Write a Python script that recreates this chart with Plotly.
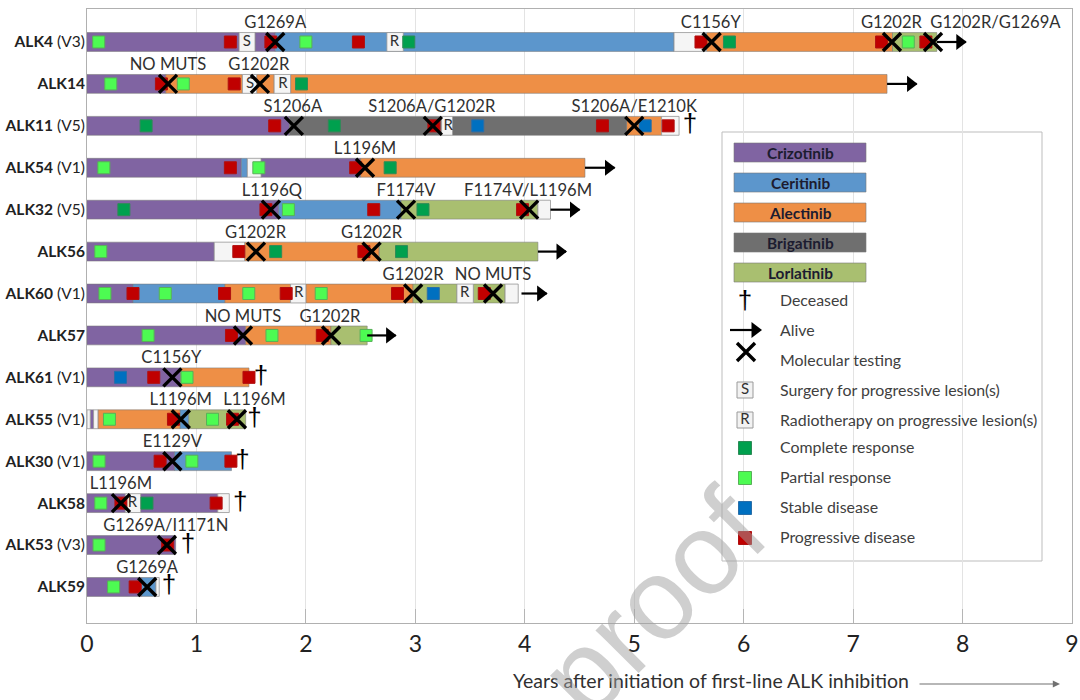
import plotly.graph_objects as go

patients = ["ALK4", "ALK14", "ALK11", "ALK54", "ALK32", "ALK56", "ALK60",
            "ALK57", "ALK61", "ALK55", "ALK30", "ALK58", "ALK53", "ALK59"]
variants = ["V3", "", "V5", "V1", "V5", "", "V1", "", "V1", "V1", "V1", "", "V3", ""]

# Treatment segments: (patient, start year, end year)
crizotinib = [("ALK4", 0, 1.39), ("ALK4", 1.535, 1.72), ("ALK14", 0, 0.72), ("ALK11", 0, 1.85),
              ("ALK54", 0, 1.41), ("ALK54", 1.59, 2.5), ("ALK32", 0, 1.75), ("ALK56", 0, 1.163),
              ("ALK60", 0, 0.42), ("ALK57", 0, 1.45), ("ALK61", 0, 0.857), ("ALK55", 0.03, 0.06),
              ("ALK30", 0, 0.8), ("ALK58", 0, 0.35), ("ALK58", 0.49, 1.195), ("ALK53", 0, 0.81),
              ("ALK59", 0, 0.5)]
ceritinib = [("ALK4", 1.72, 5.364), ("ALK54", 1.41, 1.465), ("ALK32", 1.75, 2.87), ("ALK60", 0.42, 1.26),
             ("ALK55", 0.85, 0.93), ("ALK30", 0.8, 1.32), ("ALK59", 0.5, 0.63)]
alectinib = [("ALK4", 5.66, 7.36), ("ALK14", 0.72, 1.42), ("ALK14", 1.55, 1.71), ("ALK14", 1.86, 7.31),
             ("ALK11", 4.93, 5.25), ("ALK54", 2.5, 4.55), ("ALK56", 1.44, 2.67), ("ALK60", 1.26, 1.86),
             ("ALK60", 2.0, 2.98), ("ALK57", 1.45, 2.23), ("ALK61", 0.857, 1.48), ("ALK55", 0.10, 0.85)]
brigatinib = [("ALK11", 1.85, 3.24), ("ALK11", 3.34, 4.93)]
lorlatinib = [("ALK4", 7.36, 7.765), ("ALK32", 2.87, 4.12), ("ALK56", 2.67, 4.12), ("ALK60", 2.98, 3.38),
              ("ALK60", 3.53, 3.82), ("ALK57", 2.23, 2.56), ("ALK55", 0.93, 1.45)]
off_treatment = [("ALK4", 1.39, 1.535), ("ALK4", 2.74, 2.89), ("ALK4", 5.364, 5.66), ("ALK14", 1.42, 1.55),
                 ("ALK14", 1.71, 1.86), ("ALK11", 3.24, 3.34), ("ALK11", 5.25, 5.41), ("ALK54", 1.465, 1.59),
                 ("ALK32", 4.12, 4.235), ("ALK56", 1.163, 1.44), ("ALK60", 1.86, 2.0), ("ALK60", 3.38, 3.53),
                 ("ALK60", 3.82, 3.94), ("ALK55", 0, 0.03), ("ALK55", 0.06, 0.10), ("ALK58", 0.35, 0.49),
                 ("ALK58", 1.195, 1.30), ("ALK59", 0.63, 0.66)]

# Point events: (patient, year)
complete_response = [("ALK4", 2.94), ("ALK4", 5.87), ("ALK14", 1.96), ("ALK11", 0.54), ("ALK11", 2.26),
                     ("ALK54", 2.77), ("ALK32", 0.337), ("ALK32", 3.07), ("ALK56", 1.724), ("ALK56", 2.874),
                     ("ALK58", 0.548)]
partial_response = [("ALK4", 0.107), ("ALK4", 2.0), ("ALK4", 7.504), ("ALK14", 0.217), ("ALK14", 0.88),
                    ("ALK54", 0.154), ("ALK54", 1.57), ("ALK32", 1.84), ("ALK56", 0.126), ("ALK60", 0.164),
                    ("ALK60", 0.715), ("ALK60", 1.478), ("ALK60", 2.14), ("ALK57", 0.558), ("ALK57", 1.69),
                    ("ALK57", 2.55), ("ALK61", 0.914), ("ALK55", 0.205), ("ALK55", 1.147), ("ALK30", 0.11),
                    ("ALK30", 0.958), ("ALK58", 0.126), ("ALK53", 0.11), ("ALK59", 0.243)]
stable_disease = [("ALK11", 3.57), ("ALK11", 5.10), ("ALK60", 3.164), ("ALK61", 0.306)]
progressive_disease = [("ALK4", 1.31), ("ALK4", 1.68), ("ALK4", 2.48), ("ALK4", 5.61), ("ALK4", 7.26),
                       ("ALK4", 7.665), ("ALK14", 0.68), ("ALK14", 1.345), ("ALK11", 1.715), ("ALK11", 3.17),
                       ("ALK11", 4.71), ("ALK11", 5.31), ("ALK54", 1.31), ("ALK54", 2.455), ("ALK32", 1.635),
                       ("ALK32", 2.62), ("ALK32", 3.98), ("ALK56", 1.387), ("ALK56", 2.53), ("ALK60", 0.42),
                       ("ALK60", 1.257), ("ALK60", 1.82), ("ALK60", 2.837), ("ALK60", 3.63), ("ALK57", 1.32),
                       ("ALK57", 2.15), ("ALK61", 0.61), ("ALK61", 1.48), ("ALK55", 0.79), ("ALK55", 1.33),
                       ("ALK30", 0.668), ("ALK30", 1.315), ("ALK58", 0.31), ("ALK58", 1.18), ("ALK53", 0.737),
                       ("ALK59", 0.44)]
molecular_testing = [("ALK4", 1.72), ("ALK4", 5.707), ("ALK4", 7.355), ("ALK4", 7.73), ("ALK14", 0.74),
                     ("ALK14", 1.58), ("ALK11", 1.89), ("ALK11", 3.16), ("ALK11", 5.0), ("ALK54", 2.54),
                     ("ALK32", 1.68), ("ALK32", 2.915), ("ALK32", 4.04), ("ALK56", 1.544), ("ALK56", 2.6),
                     ("ALK60", 2.98), ("ALK60", 3.71), ("ALK57", 1.425), ("ALK57", 2.23), ("ALK61", 0.78),
                     ("ALK55", 0.857), ("ALK55", 1.37), ("ALK30", 0.78), ("ALK58", 0.31), ("ALK53", 0.73),
                     ("ALK59", 0.55)]
surgery = [("ALK4", 1.46), ("ALK14", 1.49)]
radiotherapy = [("ALK4", 2.81), ("ALK14", 1.79), ("ALK11", 3.3), ("ALK60", 1.935), ("ALK60", 3.45), ("ALK58", 0.415)]
deceased = [("ALK11", 5.51), ("ALK61", 1.59), ("ALK55", 1.53), ("ALK30", 1.42), ("ALK58", 1.40),
            ("ALK53", 0.923), ("ALK59", 0.75)]
# Alive arrows: (patient, arrow start year, arrow tip year)
alive = [("ALK4", 7.765, 8.03), ("ALK14", 7.31, 7.58), ("ALK54", 4.55, 4.82), ("ALK32", 4.235, 4.50),
         ("ALK56", 4.12, 4.377), ("ALK60", 3.97, 4.2), ("ALK57", 2.56, 2.82)]
# Mutation labels: (patient, year, text)
mutations = [("ALK4", 1.72, "G1269A"), ("ALK4", 5.70, "C1156Y"), ("ALK4", 7.35, "G1202R"),
             ("ALK4", 8.30, "G1202R/G1269A"), ("ALK14", 0.74, "NO MUTS"), ("ALK14", 1.57, "G1202R"),
             ("ALK11", 1.88, "S1206A"), ("ALK11", 3.15, "S1206A/G1202R"), ("ALK11", 5.0, "S1206A/E1210K"),
             ("ALK54", 2.54, "L1196M"), ("ALK32", 1.69, "L1196Q"), ("ALK32", 2.915, "F1174V"),
             ("ALK32", 4.03, "F1174V/L1196M"), ("ALK56", 1.54, "G1202R"), ("ALK56", 2.6, "G1202R"),
             ("ALK60", 2.98, "G1202R"), ("ALK60", 3.71, "NO MUTS"), ("ALK57", 1.425, "NO MUTS"),
             ("ALK57", 2.22, "G1202R"), ("ALK61", 0.77, "C1156Y"), ("ALK55", 0.857, "L1196M"),
             ("ALK55", 1.53, "L1196M"), ("ALK30", 0.78, "E1129V"), ("ALK58", 0.31, "L1196M"),
             ("ALK53", 0.72, "G1269A/I1171N"), ("ALK59", 0.55, "G1269A")]

drug_names = ["Crizotinib", "Ceritinib", "Alectinib", "Brigatinib", "Lorlatinib"]
drug_colors = ["#8064a2", "#5c96cc", "#ee8f46", "#6f6f6f", "#a9bf70"]

FONT = "Lato"
TXT = "#303030"
row = {p: i for i, p in enumerate(patients)}
fig = go.Figure()


def seg_trace(data, color, name, edge="rgba(120,120,120,0.55)"):
    fig.add_trace(go.Bar(orientation="h", name=name, y=[row[d[0]] for d in data],
                         base=[d[1] for d in data], x=[d[2] - d[1] for d in data],
                         width=0.45, marker=dict(color=color, line=dict(color=edge, width=1)),
                         showlegend=False, hoverinfo="skip"))


for data, color, name in zip([crizotinib, ceritinib, alectinib, brigatinib, lorlatinib],
                             drug_colors, drug_names):
    seg_trace(data, color, name)
seg_trace(off_treatment, "#f5f5f5", "Off treatment", "rgba(150,150,150,0.8)")


def points(data, **kw):
    fig.add_trace(go.Scatter(x=[d[1] for d in data], y=[row[d[0]] for d in data],
                             showlegend=False, hoverinfo="skip", **kw))


def square(color, edge):
    return dict(symbol="square", size=12, color=color, line=dict(color=edge, width=1))


C_CR, C_PR, C_SD, C_PD = "#00a04e", "#4dfb52", "#0070c0", "#c00000"
E_CR, E_PR, E_SD, E_PD = "#2e8b57", "#58b058", "#2a6ea8", "#b01010"
X_MARK = dict(symbol="x-thin", size=18, line=dict(color="black", width=3.4))
DAGGER = dict(family="Liberation Sans", size=26, color="black")

points(surgery, mode="text", text=["S"] * len(surgery), textfont=dict(family=FONT, size=15, color=TXT))
points(radiotherapy, mode="text", text=["R"] * len(radiotherapy), textfont=dict(family=FONT, size=15, color=TXT))
points(complete_response, mode="markers", marker=square(C_CR, E_CR))
points(partial_response, mode="markers", marker=square(C_PR, E_PR))
points(stable_disease, mode="markers", marker=square(C_SD, E_SD))
points(progressive_disease, mode="markers", marker=square(C_PD, E_PD))

# Alive arrows
ax_x, ax_y = [], []
for p, a, b in alive:
    ax_x += [a, b, None]
    ax_y += [row[p], row[p], None]
fig.add_trace(go.Scatter(x=ax_x, y=ax_y, mode="lines", line=dict(color="black", width=2.2),
                         showlegend=False, hoverinfo="skip"))
fig.add_trace(go.Scatter(x=[a[2] - 0.055 for a in alive], y=[row[a[0]] for a in alive], mode="markers",
                         marker=dict(symbol="triangle-right", size=14, color="black"),
                         showlegend=False, hoverinfo="skip"))

points(molecular_testing, mode="markers", marker=X_MARK)
points(deceased, mode="text", text=["†"] * len(deceased), textfont=DAGGER)
fig.add_trace(go.Scatter(x=[m[1] for m in mutations], y=[row[m[0]] - 0.43 for m in mutations],
                         mode="text", text=[m[2] for m in mutations],
                         textfont=dict(family=FONT, size=16.6, color=TXT),
                         showlegend=False, hoverinfo="skip"))

# Legend, laid out on an overlay axis measured in image pixels
LEFT, RIGHT, TOP, BOTTOM = 87, 1072, 9, 623
shapes = [dict(type="rect", xref="x2", yref="y2", x0=722, x1=1042, y0=132, y1=561, layer="below",
               fillcolor="white", line=dict(color="#bdbdbd", width=1))]
annots = []
for i, (n, c) in enumerate(zip(drug_names, drug_colors)):
    yc = 152.5 + 30 * i
    shapes.append(dict(type="rect", xref="x2", yref="y2", x0=734, x1=866, y0=yc - 9.5, y1=yc + 9.5,
                       fillcolor=c, line=dict(color="rgba(120,120,120,0.6)", width=1), layer="above"))
    annots.append(dict(xref="x2", yref="y2", x=800, y=yc, text=f"<b>{n}</b>", showarrow=False,
                       font=dict(family=FONT, size=15.4, color="#1c1c30")))

legend_rows = [("Deceased", 299), ("Alive", 329), ("Molecular testing", 359),
               ("Surgery for progressive lesion(s)", 389), ("Radiotherapy on progressive lesion(s)", 419),
               ("Complete response", 446), ("Partial response", 476), ("Stable disease", 506),
               ("Progressive disease", 536)]
for t, y in legend_rows:
    annots.append(dict(xref="x2", yref="y2", x=778, y=y, xanchor="left", text=t, showarrow=False,
                       font=dict(family=FONT, size=15.9, color="#404040")))


def lg(x, y, **kw):
    fig.add_trace(go.Scatter(x=x, y=y, xaxis="x2", yaxis="y2", showlegend=False, hoverinfo="skip", **kw))


lg([745], [302], mode="text", text=["†"], textfont=DAGGER)
lg([730, 755], [330, 330], mode="lines", line=dict(color="black", width=2.2))
lg([755], [330], mode="markers", marker=dict(symbol="triangle-right", size=14, color="black"))
lg([746], [352], mode="markers", marker=X_MARK)
lg([745, 745], [390, 420], mode="markers+text", text=["S", "R"], textposition="middle center",
   marker=dict(symbol="square", size=16, color="#f2f2f2", line=dict(color="#9a9a9a", width=1)),
   textfont=dict(family=FONT, size=15, color=TXT))
lg([745, 745, 745, 745], [448, 478, 508, 538], mode="markers",
   marker=dict(symbol="square", size=13, color=[C_CR, C_PR, C_SD, C_PD],
               line=dict(color=[E_CR, E_PR, E_SD, E_PD], width=1)))


def px_x(v):
    return (v - LEFT) / (RIGHT - LEFT)


def px_y(v):
    return (BOTTOM - v) / (BOTTOM - TOP)


# Axis caption with its arrow, and the draft watermark
annots.append(dict(xref="paper", yref="paper", x=px_x(711), y=px_y(680), xanchor="center", yanchor="middle",
                   text="Years after initiation of first-line ALK inhibition",
                   showarrow=False, font=dict(family=FONT, size=19.5, color=TXT)))
annots.append(dict(xref="paper", yref="paper", x=px_x(1060), y=px_y(684), ax=-142, ay=0, text="",
                   showarrow=True, arrowhead=2, arrowsize=1.2, arrowwidth=1.2, arrowcolor="#707070"))
annots.append(dict(xref="paper", yref="paper", x=px_x(652), y=px_y(603), xanchor="center", yanchor="middle",
                   text="proof", textangle=-45, showarrow=False,
                   font=dict(family="Liberation Sans", size=115, color="rgba(160,160,160,0.5)")))

ticktext = [f"<b>{p}</b>" + (f" ({v})" if v else "") for p, v in zip(patients, variants)]
fig.update_layout(
    width=1080, height=700, barmode="overlay", plot_bgcolor="white", paper_bgcolor="white",
    margin=dict(l=LEFT, r=1080 - RIGHT, t=TOP, b=700 - BOTTOM, autoexpand=False),
    font=dict(family=FONT, color=TXT), shapes=shapes, annotations=annots,
    xaxis=dict(range=[0, 9], dtick=1, tick0=0, showgrid=True, gridcolor="#e3e3e3", gridwidth=1,
               zeroline=False, showline=True, mirror=True, linecolor="#b0b0b0", linewidth=1,
               ticks="inside", ticklen=14, tickcolor="#b5b5b5", tickfont=dict(family=FONT, size=23, color="#222")),
    yaxis=dict(range=[13.86, -0.787], tickmode="array", tickvals=list(range(len(patients))), ticktext=ticktext,
               showgrid=False, zeroline=False, showline=True, mirror=True, linecolor="#b0b0b0", linewidth=1,
               ticks="", ticklabelstandoff=-2, tickfont=dict(family=FONT, size=15.5, color="#222")),
    xaxis2=dict(range=[LEFT, RIGHT], overlaying="x", visible=False),
    yaxis2=dict(range=[BOTTOM, TOP], overlaying="y", visible=False),
)
fig.write_html("out.html", config={"displayModeBar": False},
               post_script="document.body.style.margin='0';document.documentElement.style.overflow='hidden';")
